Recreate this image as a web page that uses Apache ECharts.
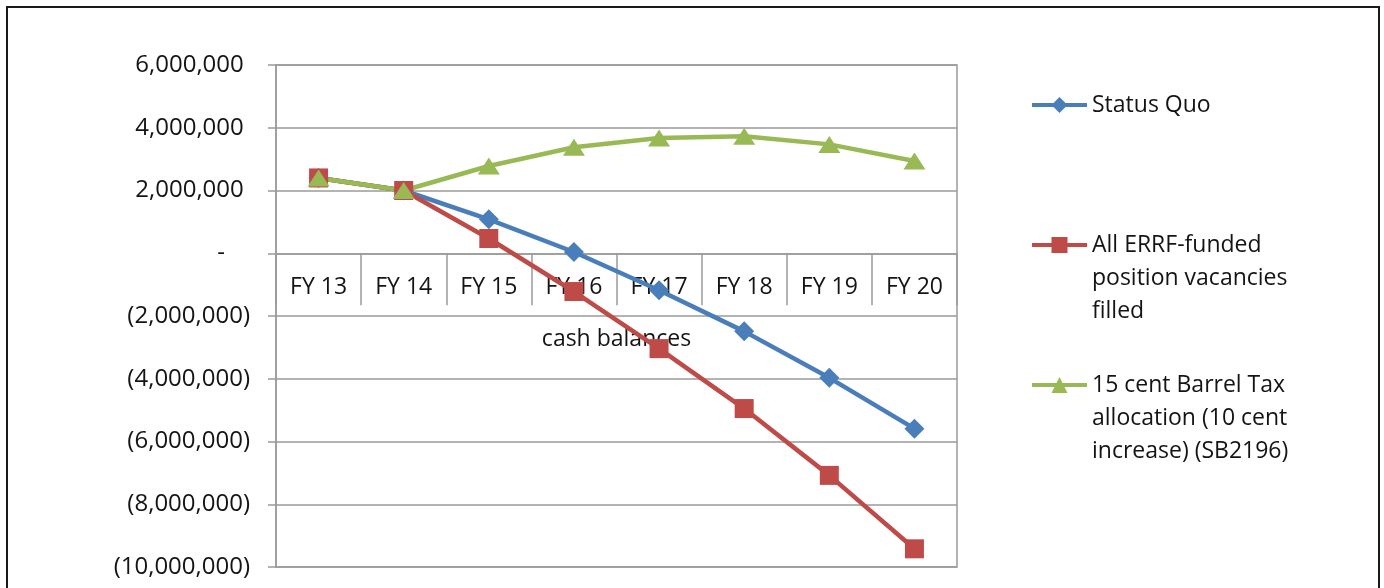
<!DOCTYPE html>
<html>
<head>
<meta charset="utf-8">
<script src="https://cdn.jsdelivr.net/npm/echarts@6/dist/echarts.min.js"></script>
<style>
  html, body { margin: 0; padding: 0; background: #fff; }
  #chart { width: 1384px; height: 588px; }
</style>
</head>
<body>
<div id="chart"></div>
<script>
// ---- data ----
const categories = ['FY 13', 'FY 14', 'FY 15', 'FY 16', 'FY 17', 'FY 18', 'FY 19', 'FY 20'];
const seriesNames = [
  'Status Quo',
  'All ERRF-funded position vacancies filled',
  '15 cent Barrel Tax allocation (10 cent increase) (SB2196)'
];
const legendLabels = [
  'Status Quo',
  'All ERRF-funded\nposition vacancies\nfilled',
  '15 cent Barrel Tax\nallocation (10 cent\nincrease) (SB2196)'
];
const statusQuo = [2400000, 2000000, 1080000, 40000, -1180000, -2490000, -3970000, -5590000];
const errfFilled = [2400000, 2000000, 470000, -1220000, -3040000, -4950000, -7080000, -9420000];
const barrelTax = [2400000, 2000000, 2780000, 3380000, 3670000, 3730000, 3470000, 2940000];
const axisName = 'cash balances';
const yMin = -10000000, yMax = 6000000, yStep = 2000000;

// ---- chart ----
const FONT = '"Open Sans", "DejaVu Sans", sans-serif';
const TEXT = '#141414';
const GRIDC = '#9a9a9a';
const colors = ['#4A7EBB', '#BE4B48', '#98B954'];
const symbols = ['diamond', 'rect', 'triangle'];
const symbolSizes = [[20, 20], [19, 19], [22, 17]];
const dataSets = [statusQuo, errfFilled, barrelTax];

function fmtY(v) {
  if (v === 0) return '-    ';
  const s = Math.abs(v).toLocaleString('en-US');
  return v < 0 ? '(' + s + ')' : s + ' ';
}

const legendCenters = [105, 245, 385];
const lineH = 33;

// legend text: pad with leading empty lines so the icon sits beside the first line
function legendText(i) {
  const lines = legendLabels[i].split('\n');
  const pad = new Array(lines.length - 1).fill('');
  return pad.concat(lines).join('\n');
}

const chart = echarts.init(document.getElementById('chart'), null, { renderer: 'canvas' });

function buildOption(xOffset) {
  return {
    animation: false,
    backgroundColor: '#fff',
    color: colors,
    textStyle: { fontFamily: FONT },
    graphic: [{
      type: 'rect',
      shape: { x: 7, y: 7, width: 1372, height: 700 },
      style: { fill: 'none', stroke: '#1a1a1a', lineWidth: 2 },
      silent: true
    }],
    grid: {
      left: 276, right: 427, top: 65, bottom: 21,
      outerBoundsMode: 'none',
      containLabel: false,
      show: true, borderColor: GRIDC, borderWidth: 1.5, backgroundColor: 'transparent'
    },
    legend: seriesNames.map((name, i) => {
      const nLines = 2 * legendLabels[i].split('\n').length - 1;
      const boxH = nLines * lineH;
      return {
        data: [name],
        orient: 'vertical',
        left: 1030,
        top: legendCenters[i] - boxH / 2,
        padding: 0,
        itemWidth: 55,
        itemHeight: 20,
        lineStyle: { width: 4 },
        formatter: () => legendText(i),
        textStyle: {
          fontFamily: FONT, fontSize: 23, color: TEXT, lineHeight: lineH
        }
      };
    }),
    xAxis: {
      type: 'category',
      data: categories,
      boundaryGap: true,
      position: 'bottom',
      offset: xOffset,
      axisLine: { onZero: false, lineStyle: { color: GRIDC, width: 1.5 } },
      axisTick: { show: true, interval: 0, length: 52, lineStyle: { color: GRIDC, width: 1.5 } },
      axisLabel: { interval: 0, margin: 23, fontSize: 23, color: TEXT, fontFamily: FONT },
      name: axisName,
      nameLocation: 'middle',
      nameGap: 75,
      nameTextStyle: { fontSize: 23, color: TEXT, fontFamily: FONT },
      splitLine: { show: false }
    },
    yAxis: {
      type: 'value',
      min: yMin, max: yMax, interval: yStep,
      axisLine: { show: true, onZero: false, lineStyle: { color: GRIDC, width: 1.5 } },
      axisTick: { show: true, length: 8, lineStyle: { color: GRIDC, width: 1.5 } },
      axisLabel: { margin: 26, fontSize: 24, color: TEXT, fontFamily: FONT, formatter: fmtY },
      splitLine: { show: true, lineStyle: { color: GRIDC, width: 1.5 } }
    },
    series: seriesNames.map((name, i) => ({
      name: name,
      type: 'line',
      data: dataSets[i],
      symbol: symbols[i],
      symbolSize: symbolSizes[i],
      showAllSymbol: true,
      lineStyle: { width: 4.5, color: colors[i] },
      itemStyle: { color: colors[i] },
      emphasis: { disabled: true }
    }))
  };
}

chart.setOption(buildOption(0));
// move the category axis up to the zero line using the value axis' own scale
const zeroY = chart.convertToPixel({ yAxisIndex: 0 }, 0);
const minY = chart.convertToPixel({ yAxisIndex: 0 }, yMin);
chart.setOption({ xAxis: { offset: zeroY - minY } });
</script>
</body>
</html>
